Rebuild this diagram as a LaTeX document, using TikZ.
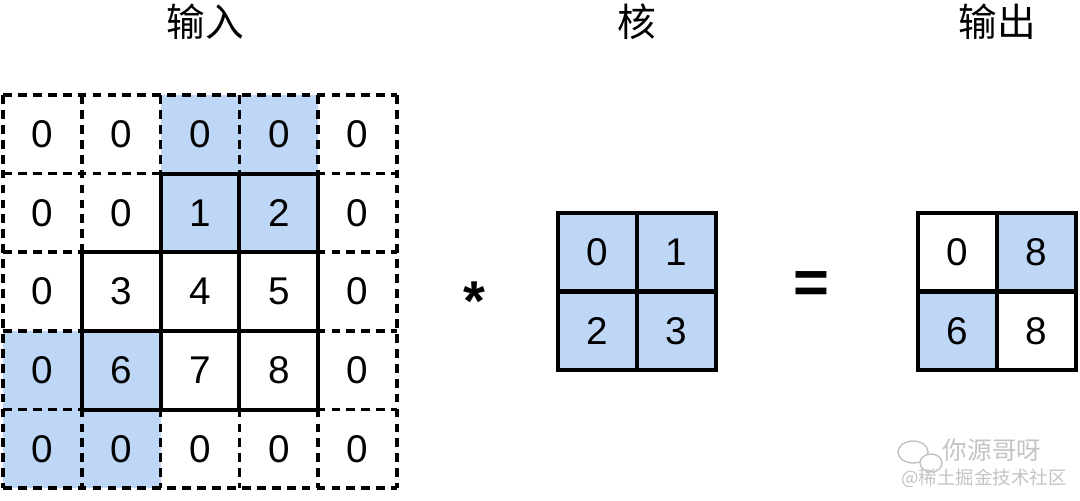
\documentclass[tikz,border=0pt]{standalone}
\usepackage{fontspec}
\setmainfont{Liberation Sans}
\newfontfamily\cjk{Noto Sans CJK SC}
\usetikzlibrary{positioning}

\definecolor{winblue}{RGB}{190,215,246}
\definecolor{markgray}{RGB}{195,195,195}

\begin{document}
\begin{tikzpicture}[x=0.02cm, y=-0.02cm,
  every node/.style={font=\fontsize{22}{26}\selectfont},
  num/.style={inner sep=0pt},
  title/.style={font=\cjk\fontsize{22}{26}\selectfont},
  padline/.style={line width=2pt, dash pattern=on 5pt off 3.5pt},
  cellline/.style={line width=2.3pt, line cap=rect},
  wm/.style={text=markgray, inner sep=0pt}]
  \useasboundingbox (0,0) rectangle (1080,501);
  % titles
  \node[title] (t-in) at (205,22) {输入};
  \node[title] (t-k) at (637,22) {核};
  \node[title] (t-out) at (997,22) {输出};
  % shaded windows of the input
  \foreach \c/\r in {2/0,3/0,2/1,3/1,0/3,1/3,0/4,1/4}
    \fill[winblue] ({3+78.8*\c},{95+78.6*\r}) rectangle ++(78.8,78.6);
  % padding grid
  \foreach \i in {0,...,5} {
    \draw[padline] ({3+78.8*\i},95) -- ({3+78.8*\i},488);
    \draw[padline] (3,{95+78.6*\i}) -- (397,{95+78.6*\i});
  }
  % original input cells
  \draw[cellline] (161,174) -- (318,174) -- (318,410) -- (82,410) -- (82,252) -- (161,252) -- cycle;
  \draw[cellline] (239,174) -- (239,410);
  \draw[cellline] (161,252) -- (161,410);
  \draw[cellline] (161,252) -- (318,252);
  \draw[cellline] (82,331) -- (318,331);
  % input values
  \foreach \row [count=\r from 0] in {{0,0,0,0,0},{0,0,1,2,0},{0,3,4,5,0},{0,6,7,8,0},{0,0,0,0,0}}
    \foreach \v [count=\c from 0] in \row
      \node[num] (in-\r-\c) at ({3+78.8*(\c+0.5)},{95+78.6*(\r+0.5)}) {\v};
  % kernel
  \fill[winblue] (558,213) rectangle (716,370);
  \draw[cellline] (558,213) rectangle (716,370);
  \draw[cellline] (637,213) -- (637,370);
  \draw[cellline] (558,291.5) -- (716,291.5);
  \foreach \v/\r/\c in {0/0/0,1/0/1,2/1/0,3/1/1}
    \node[num] (k-\r-\c) at ({558+78.8*(\c+0.5)},{213+78.5*(\r+0.5)}) {\v};
  % output
  \fill[winblue] (997,213) rectangle (1076,291.5);
  \fill[winblue] (918,291.5) rectangle (997,370);
  \draw[cellline] (918,213) rectangle (1076,370);
  \draw[cellline] (997,213) -- (997,370);
  \draw[cellline] (918,291.5) -- (1076,291.5);
  \foreach \v/\r/\c in {0/0/0,8/0/1,6/1/0,8/1/1}
    \node[num] (out-\r-\c) at ({918+78.8*(\c+0.5)},{213+78.5*(\r+0.5)}) {\v};
  % operators
  \node[font=\bfseries\fontsize{32}{36}\selectfont] (op-conv) at (474,301) {*};
  \node[font=\bfseries\fontsize{35}{40}\selectfont] (op-eq) at (811,288) {=};
  % watermark
  \draw[markgray, line width=0.8pt] (913,452) ellipse (15 and 11);
  \filldraw[markgray, fill=white, line width=0.8pt] (931,463) ellipse (11 and 9);
  \node[wm, font=\cjk\fontsize{14}{16}\selectfont] (wm-name) at (992,450) {你源哥呀};
  \node[wm, font=\cjk\fontsize{10.5}{12}\selectfont] (wm-site) at (984,478) {@稀土掘金技术社区};
\end{tikzpicture}
\end{document}
